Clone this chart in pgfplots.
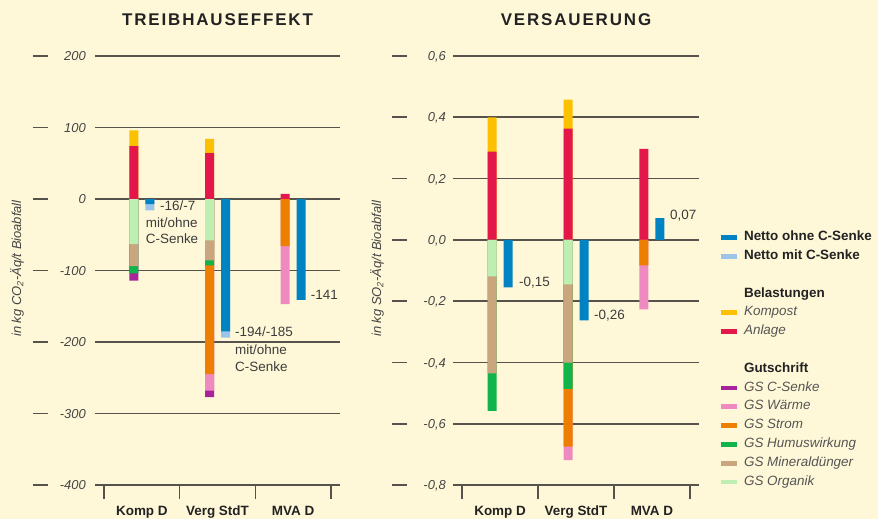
\documentclass[border=0pt]{standalone}
\usepackage{pgfplots}
\pgfplotsset{compat=1.18}
\usepackage{fontspec}
\setmainfont{Liberation Sans}
\newfontfamily\titlefont[LetterSpace=11]{Liberation Sans}

\definecolor{bgc}{HTML}{FFF8D8}
\definecolor{gridc}{HTML}{55534B}
\definecolor{tickc}{HTML}{444444}
\definecolor{annc}{HTML}{3C3C3C}
\definecolor{labc}{HTML}{222222}
\definecolor{legc}{HTML}{555555}
\definecolor{cblue}{HTML}{0083C3}
\definecolor{clblue}{HTML}{9CC3E8}
\definecolor{ckompost}{HTML}{FBC000}
\definecolor{canlage}{HTML}{E3174A}
\definecolor{csenke}{HTML}{A8239C}
\definecolor{cwaerme}{HTML}{EE8ABF}
\definecolor{cstrom}{HTML}{EE7E00}
\definecolor{chumus}{HTML}{10B44A}
\definecolor{cmineral}{HTML}{C9A67E}
\definecolor{corganik}{HTML}{BDEFB3}

\pgfplotsset{
  segbar/.style={ybar, bar width=9bp, draw=none, forget plot},
  comp/.style={segbar, bar shift=-8bp, fill=#1},
  net/.style={segbar, bar shift=8bp, fill=#1},
  panel/.style={
    scale only axis, height=429bp,
    xmin=-0.62, xmax=2.62,
    axis line style={draw=none},
    ymajorgrids, grid style={gridc, line width=1.6bp},
    xtick={0,1,2}, xticklabels={Komp D,Verg StdT,MVA D},
    minor xtick={-0.5,0.5,1.5,2.5},
    major tick length=0pt, minor tick length=14bp,
    tick align=outside, xtick pos=bottom, ytick pos=left,
    minor tick style={gridc, line width=1.6bp},
    xticklabel style={font=\fontsize{13.5}{16}\selectfont\bfseries, text=labc, anchor=base, inner sep=0pt, yshift=-30bp},
    yticklabel style={anchor=east, inner sep=0pt, text height=9.4bp, text depth=0pt, font=\fontsize{13}{15}\selectfont\itshape, text=tickc},
    /pgf/number format/assume math mode=true,
    clip=false,
    title style={anchor=center, at={(axis description cs:0.5,1.070)}, font=\fontsize{17}{20}\selectfont\titlefont\bfseries, text=labc},
    every axis y label/.style={rotate=90, anchor=west, inner sep=0pt, font=\fontsize{13}{15}\selectfont\itshape, text=tickc},
  }
}

\begin{document}
\begin{tikzpicture}
\fill[bgc] (0,0) rectangle (878bp,519bp);
\useasboundingbox (0,0) rectangle (878bp,519bp);

% ---------- TREIBHAUSEFFEKT ----------
\begin{axis}[panel, at={(95bp,34bp)}, anchor=south west, width=245bp,
  ymin=-400, ymax=200, ytick={-400,-300,-200,-100,0,100,200},
  yticklabel={\textcolor{gridc}{\rule[3.9bp]{15bp}{1.6bp}}\makebox[38bp][r]{\pgfmathprintnumber{\tick}}},
  yticklabel style={xshift=-9bp},
  title={TREIBHAUSEFFEKT},
  ylabel={in kg CO\textsubscript{2}-Äq/t Bioabfall},
  ylabel style={at={(axis description cs:-0.318,0.345)}},
]
\addplot[comp=ckompost] coordinates {(0,96) (1,84)};
\addplot[comp=canlage] coordinates {(0,74) (1,64) (2,7)};
\addplot[comp=csenke] coordinates {(0,-114) (1,-277)};
\addplot[comp=cwaerme] coordinates {(1,-268) (2,-147)};
\addplot[comp=cstrom] coordinates {(1,-245) (2,-66)};
\addplot[comp=chumus] coordinates {(0,-104) (1,-93)};
\addplot[comp=cmineral] coordinates {(0,-94) (1,-86)};
\addplot[comp=corganik] coordinates {(0,-63) (1,-58)};
\addplot[net=clblue] coordinates {(0,-16) (1,-194)};
\addplot[net=cblue] coordinates {(0,-7) (1,-185) (2,-141)};
\begin{scope}[every node/.style={anchor=base west, inner sep=0pt, font=\fontsize{13.5}{16}\selectfont, text=annc}]
\node at (axis cs:0.2396,-16.4) {-16/-7};
\node at (axis cs:0.0505,-39.2) {mit/ohne};
\node at (axis cs:0.0505,-62.0) {C-Senke};
\node at (axis cs:1.2314,-193.0) {-194/-185};
\node at (axis cs:1.2314,-217.5) {mit/ohne};
\node at (axis cs:1.2314,-240.6) {C-Senke};
\node at (axis cs:2.2325,-140.3) {-141};
\end{scope}
\end{axis}

% ---------- VERSAUERUNG ----------
\begin{axis}[panel, at={(453bp,34bp)}, anchor=south west, width=246bp,
  ymin=-0.8, ymax=0.6, ytick={-0.8,-0.6,-0.4,-0.2,0,0.2,0.4,0.6},
  yticklabel={\textcolor{gridc}{\rule[3.9bp]{15bp}{1.6bp}}\makebox[39bp][r]{\pgfmathprintnumber[fixed,fixed zerofill,precision=1,use comma]{\tick}}},
  yticklabel style={xshift=-7bp},
  title={VERSAUERUNG},
  ylabel={in kg SO\textsubscript{2}-Äq/t Bioabfall},
  ylabel style={at={(axis description cs:-0.309,0.345)}},
  legend image code/.code={\fill[#1] (0bp,-2bp) rectangle (15bp,1.7bp);},
  legend cell align=left,
  legend style={at={(axis description cs:1.088,0.593)}, anchor=north west,
    draw=none, fill=none, inner sep=0pt, outer sep=0pt,
    column sep=8bp, row sep=5.8bp,
    nodes={inner sep=0pt, text height=10bp, text depth=3bp},
    font=\fontsize{13.5}{16}\selectfont},
]
\addplot[comp=ckompost] coordinates {(0,0.400) (1,0.458)};
\addplot[comp=canlage] coordinates {(0,0.288) (1,0.363) (2,0.297)};
\addplot[comp=cwaerme] coordinates {(1,-0.719) (2,-0.227)};
\addplot[comp=cstrom] coordinates {(1,-0.675) (2,-0.083)};
\addplot[comp=chumus] coordinates {(0,-0.558) (1,-0.486)};
\addplot[comp=cmineral] coordinates {(0,-0.436) (1,-0.401)};
\addplot[comp=corganik] coordinates {(0,-0.119) (1,-0.145)};
\addplot[net=cblue] coordinates {(0,-0.155) (1,-0.263) (2,0.071)};
\begin{scope}[every node/.style={anchor=base west, inner sep=0pt, font=\fontsize{13.5}{16}\selectfont, text=annc}]
\node at (axis cs:0.2493,-0.1506) {-0,15};
\node at (axis cs:1.237,-0.2615) {-0,26};
\node at (axis cs:2.238,0.0671) {0,07};
\end{scope}
\addlegendimage{cblue}\addlegendentry{\bfseries\color{labc}Netto ohne C-Senke}
\addlegendimage{clblue}\addlegendentry{\bfseries\color{labc}Netto mit C-Senke}
\addlegendimage{empty legend}\addlegendentry{\mbox{}}
\addlegendimage{empty legend}\addlegendentry{\bfseries\color{labc}Belastungen}
\addlegendimage{ckompost}\addlegendentry{\itshape\color{legc}Kompost}
\addlegendimage{canlage}\addlegendentry{\itshape\color{legc}Anlage}
\addlegendimage{empty legend}\addlegendentry{\mbox{}}
\addlegendimage{empty legend}\addlegendentry{\bfseries\color{labc}Gutschrift}
\addlegendimage{csenke}\addlegendentry{\itshape\color{legc}GS C-Senke}
\addlegendimage{cwaerme}\addlegendentry{\itshape\color{legc}GS Wärme}
\addlegendimage{cstrom}\addlegendentry{\itshape\color{legc}GS Strom}
\addlegendimage{chumus}\addlegendentry{\itshape\color{legc}GS Humuswirkung}
\addlegendimage{cmineral}\addlegendentry{\itshape\color{legc}GS Mineraldünger}
\addlegendimage{corganik}\addlegendentry{\itshape\color{legc}GS Organik}
\end{axis}
\end{tikzpicture}
\end{document}
